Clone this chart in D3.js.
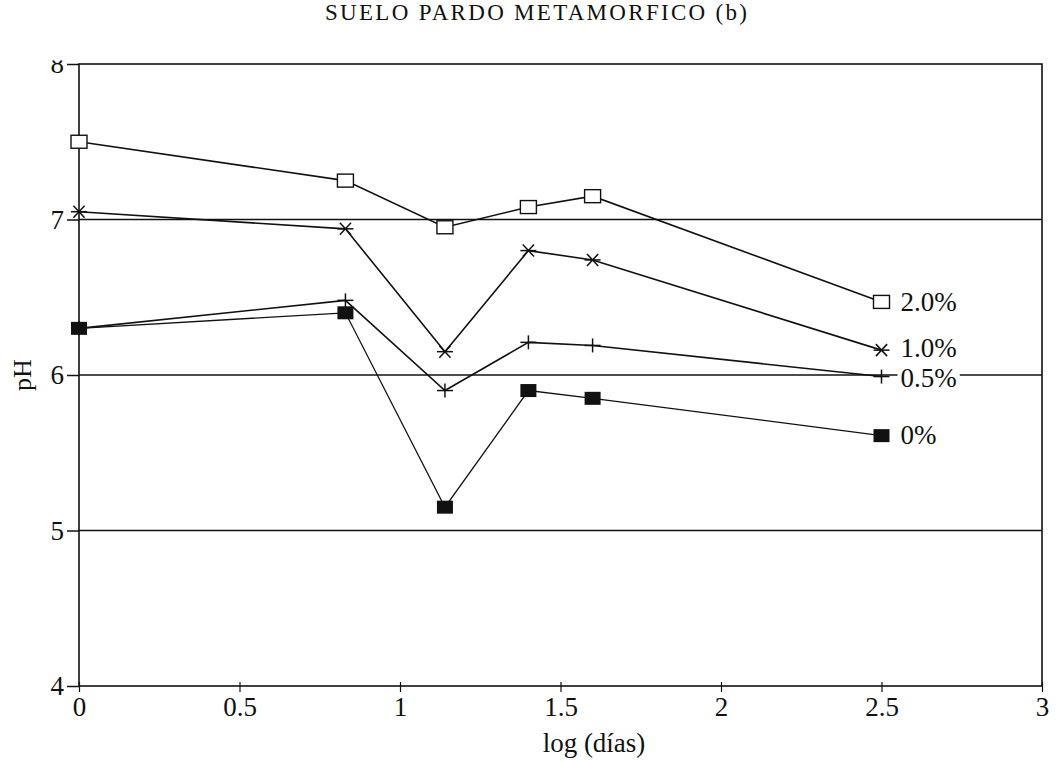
<!DOCTYPE html>
<html>
<head>
<meta charset="utf-8">
<script src="https://cdn.jsdelivr.net/npm/d3@7"></script>
<style>
  body { margin: 0; background: #fff; }
  text { font-family: "Liberation Serif", "DejaVu Serif", serif; fill: #111; }
</style>
</head>
<body>
<div id="chart"></div>
<script>
// Data
const logDays = [0, 0.83, 1.14, 1.40, 1.60, 2.50];
const ph2 = [7.50, 7.25, 6.95, 7.08, 7.15, 6.47];   // 2.0%
const ph1 = [7.05, 6.94, 6.15, 6.80, 6.74, 6.16];   // 1.0%
const ph05 = [6.30, 6.48, 5.90, 6.21, 6.19, 5.99];  // 0.5%
const ph0 = [6.30, 6.40, 5.15, 5.90, 5.85, 5.61];   // 0%
const seriesNames = ["2.0%", "1.0%", "0.5%", "0%"];
const xTicks = [0, 0.5, 1, 1.5, 2, 2.5, 3];
const yTicks = [4, 5, 6, 7, 8];

const margin = { top: 64, right: 18, bottom: 76, left: 79 };
const W = 1060, H = 762;
const width = W - margin.left - margin.right;
const height = H - margin.top - margin.bottom;

const svg = d3.select("#chart").append("svg")
  .attr("width", W).attr("height", H);

const g = svg.append("g")
  .attr("transform", `translate(${margin.left},${margin.top})`);

const x = d3.scaleLinear().domain([0, 3]).range([0, width]);
const y = d3.scaleLinear().domain([4, 8]).range([height, 0]);

// Title
svg.append("text")
  .attr("x", 536).attr("y", 20)
  .attr("text-anchor", "middle")
  .attr("font-size", 23)
  .attr("textLength", 422)
  .attr("lengthAdjust", "spacing")
  .text("SUELO PARDO METAMORFICO (b)");

// Gridlines at 5,6,7
g.selectAll(".grid").data([5, 6, 7]).enter().append("line")
  .attr("x1", 0).attr("x2", width)
  .attr("y1", d => y(d)).attr("y2", d => y(d))
  .attr("stroke", "#111").attr("stroke-width", 1.5);

// Frame
g.append("rect")
  .attr("width", width).attr("height", height)
  .attr("fill", "none").attr("stroke", "#111").attr("stroke-width", 1.6);

// clip for the half-cut "8" at the top
svg.append("clipPath").attr("id", "yclip8")
  .append("rect").attr("x", -100).attr("y", -4).attr("width", 200).attr("height", 50);

// Y axis (ticks pointing outwards)
const yAxis = g.append("g")
  .call(d3.axisLeft(y).tickValues(yTicks).tickSize(12).tickPadding(3).tickFormat(d3.format("d")));
yAxis.select(".domain").remove();
yAxis.selectAll("line").attr("stroke", "#111").attr("stroke-width", 1.5);
yAxis.selectAll("text").attr("font-size", 27).attr("font-family", "Liberation Serif").attr("fill", "#111");
yAxis.selectAll(".tick").filter(d => d === 8).select("text").attr("clip-path", "url(#yclip8)");

// X axis
const xAxis = g.append("g")
  .attr("transform", `translate(0,${height})`)
  .call(d3.axisBottom(x).tickValues(xTicks).tickSize(6).tickPadding(5).tickFormat(d => d));
xAxis.select(".domain").remove();
xAxis.selectAll("line").attr("y1", -4).attr("stroke", "#111").attr("stroke-width", 1.2);
xAxis.selectAll("text").attr("font-size", 27).attr("font-family", "Liberation Serif").attr("fill", "#111");

// Axis titles
svg.append("text")
  .attr("transform", `translate(31,${margin.top + height / 2}) rotate(-90)`)
  .attr("text-anchor", "middle")
  .attr("font-size", 26)
  .text("pH");
svg.append("text")
  .attr("x", 594).attr("y", 752)
  .attr("text-anchor", "middle")
  .attr("font-size", 27)
  .text("log (días)");

const series = [ph2, ph1, ph05, ph0];
const line = d3.line().x((d, i) => x(logDays[i])).y(d => y(d));

// Lines
series.forEach((vals, k) => {
  g.append("path")
    .datum(vals)
    .attr("fill", "none")
    .attr("stroke", "#111")
    .attr("stroke-width", k === 3 ? 1.3 : 1.6)
    .attr("d", line);
});

// Markers
function drawMarker(sel, type) {
  if (type === 0) {
    sel.append("rect").attr("x", -8).attr("y", -6.5).attr("width", 16).attr("height", 13)
      .attr("fill", "#fff").attr("stroke", "#111").attr("stroke-width", 1.4);
  } else if (type === 1) {
    const r = 8;
    [[-r, 0, r, 0], [-r * 0.7, -r * 0.75, r * 0.7, r * 0.75], [-r * 0.7, r * 0.75, r * 0.7, -r * 0.75]]
      .forEach(p => sel.append("line").attr("x1", p[0]).attr("y1", p[1]).attr("x2", p[2]).attr("y2", p[3])
        .attr("stroke", "#111").attr("stroke-width", 1.5));
  } else if (type === 2) {
    [[-8, 0, 8, 0], [0, -7, 0, 7]]
      .forEach(p => sel.append("line").attr("x1", p[0]).attr("y1", p[1]).attr("x2", p[2]).attr("y2", p[3])
        .attr("stroke", "#111").attr("stroke-width", 1.5));
  } else {
    sel.append("rect").attr("x", -8).attr("y", -6.5).attr("width", 16).attr("height", 13)
      .attr("fill", "#111");
  }
}

series.forEach((vals, k) => {
  vals.forEach((v, i) => {
    const m = g.append("g").attr("transform", `translate(${x(logDays[i])},${y(v)})`);
    drawMarker(m, k);
  });
});

// End labels
const labelDy = [9, 7, 10, 8];
series.forEach((vals, k) => {
  const last = vals[vals.length - 1];
  const t = g.append("text")
    .attr("x", x(logDays[logDays.length - 1]) + 19)
    .attr("y", y(last) + labelDy[k])
    .attr("font-size", 27)
    .text(seriesNames[k]);
  if (k === 2) {
    // white patch behind the label so the gridline breaks there
    const bb = t.node().getBBox();
    g.append("rect")
      .attr("x", bb.x - 3).attr("y", bb.y + 4).attr("width", bb.width + 6).attr("height", bb.height - 8)
      .attr("fill", "#fff");
    t.raise();
  }
});
</script>
</body>
</html>
